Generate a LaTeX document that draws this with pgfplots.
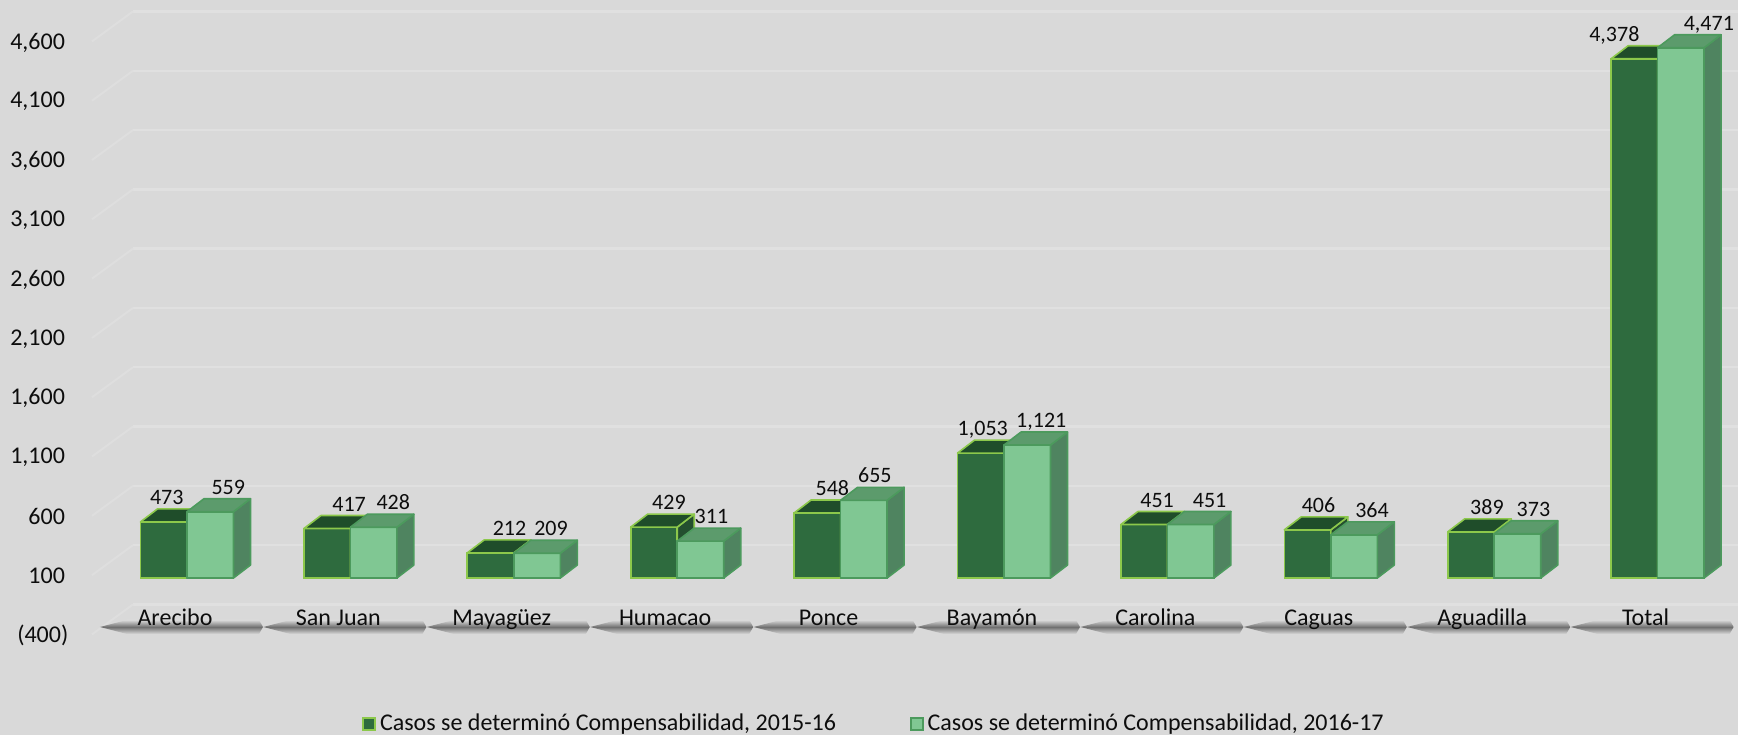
\documentclass[border=0pt]{standalone}
\usepackage{fontspec}
\setmainfont{Carlito}
\usepackage{pgfplots}
\usepackage{pgfplotstable}
\pgfplotsset{compat=1.18}

\definecolor{bgc}{HTML}{D9D9D9}
\definecolor{gridc}{HTML}{E0E0E0}
\definecolor{gridd}{HTML}{DEDEDE}
\definecolor{shc}{HTML}{707070}
\definecolor{txtc}{HTML}{0D0D0D}
\definecolor{dfront}{HTML}{2E6B3E}
\definecolor{dtop}{HTML}{1F4D2A}
\definecolor{dside}{HTML}{244F2F}
\definecolor{dedge}{HTML}{8CC84B}
\definecolor{lfront}{HTML}{80C793}
\definecolor{ltop}{HTML}{5C9B6C}
\definecolor{lside}{HTML}{4F8460}
\definecolor{ledge}{HTML}{4C9A5D}

% values per region, ds/ls = label x offsets (pt)
\pgfplotstableread{
x dark light ds ls
0 473 559 1.5 9
1 417 428 11 9.8
2 212 209 9.5 7
3 429 311 7.5 5.5
4 548 655 7.5 5.5
5 1053 1121 1 7
6 451 451 6.5 9.5
7 406 364 5.5 9
8 389 373 8 8
9 4378 4471 -10 14
}\datatable

% box faces; the mark sits at the bar top, at the group centre
\pgfdeclareplotmark{cubedark}{%
  \pgfmathsetmacro\hh{\val*0.059298}%
  \filldraw[fill=dside, draw=dedge, line width=0.8pt, line join=round]
    (0pt,0pt) -- (8.5pt,6.5pt) -- (8.5pt,6.5pt-\hh pt) -- (0pt,-\hh pt) -- cycle;
  \filldraw[fill=dtop, draw=dedge, line width=0.8pt, line join=round]
    (-23.25pt,0pt) -- (0pt,0pt) -- (8.5pt,6.5pt) -- (-14.75pt,6.5pt) -- cycle;
}
\pgfdeclareplotmark{cubelight}{%
  \pgfmathsetmacro\hh{\val*0.059298}%
  \filldraw[fill=lfront, draw=ledge, line width=0.8pt, line join=round]
    (0pt,0pt) rectangle (23.25pt,-\hh pt);
  \filldraw[fill=lside, draw=ledge, line width=0.8pt, line join=round]
    (23.25pt,0pt) -- (31.75pt,6.5pt) -- (31.75pt,6.5pt-\hh pt) -- (23.25pt,-\hh pt) -- cycle;
  \filldraw[fill=ltop, draw=ledge, line width=0.8pt, line join=round]
    (0pt,0pt) -- (23.25pt,0pt) -- (31.75pt,6.5pt) -- (8.5pt,6.5pt) -- cycle;
}

\begin{document}
\begin{tikzpicture}
\fill[bgc] (0,0) rectangle (869pt,367.5pt);
\begin{axis}[
    at={(0,0)}, anchor=south west,
    scale only axis,
    width=869pt, height=367.5pt,
    xmin=-1.1444, xmax=9.492,
    ymin=-1323.8, ymax=4873.5,
    axis line style={draw=none},
    major tick length=0pt,
    axis on top,
    clip=false,
    xtick={0,...,9},
    xticklabels={Arecibo,San Juan,Mayagüez,Humacao,Ponce,Bayamón,Carolina,Caguas,Aguadilla,Total},
    ytick={-400,100,...,4600},
    yticklabels={{(400)\kern-1.7pt},100,600,{1,100},{1,600},{2,100},{2,600},{3,100},{3,600},{4,100},{4,600}},
    every tick label/.append style={font=\fontsize{12}{14}\selectfont, text=txtc},
    xticklabel style={anchor=base, yshift=55pt, xshift=-6pt},
    yticklabel style={anchor=east, xshift=36pt, yshift=-5pt},
    legend columns=2,
    legend style={at={(axis description cs:0.2083,0.015)}, anchor=west,
        draw=none, fill=none, inner sep=0pt,
        font=\fontsize{12}{14}\selectfont, text=txtc,
        /tikz/every even column/.append style={column sep=35pt}},
    /pgf/number format/1000 sep={,},
    /pgf/number format/assume math mode=true,
]

% back wall grid and side wall lines
\pgfplotsinvokeforeach{-400,100,...,4600}{
  \draw[gridc, line width=1.2pt] ([yshift=10.5pt]axis cs:-0.3305,#1) -- ([yshift=10.5pt]axis cs:9.492,#1);
  \draw[gridd, line width=1pt] ([yshift=10.5pt]axis cs:-0.3305,#1) -- ([yshift=-4.5pt]axis cs:-0.5814,#1);
}
% floor shadows under the category names
\pgfplotsinvokeforeach{0,...,9}{
  \shade[top color=bgc, bottom color=bgc, middle color=shc]
    ([xshift=-43.5pt]axis cs:#1,-413) -- ([xshift=-30pt,yshift=3.5pt]axis cs:#1,-413)
    -- ([xshift=36pt,yshift=3.5pt]axis cs:#1,-413) -- ([xshift=38pt]axis cs:#1,-413)
    -- ([xshift=36pt,yshift=-3.5pt]axis cs:#1,-413) -- ([xshift=-30pt,yshift=-3.5pt]axis cs:#1,-413) -- cycle;
}

\addplot[ybar, bar width=0.2846, bar shift=-0.1423, fill=dfront, draw=dedge, line width=0.8pt,
    legend image code/.code={\filldraw[fill=dfront, draw=dedge, line width=0.8pt] (0pt,-3pt) rectangle (6pt,3pt);}]
    table[x=x, y=dark] {\datatable};
\addlegendentry{Casos se determinó Compensabilidad, 2015-16}

\addplot[ybar, bar width=0.2846, bar shift=0.1423, fill=lfront, draw=ledge, line width=0.8pt,
    legend image code/.code={\filldraw[fill=lfront, draw=ledge, line width=0.8pt] (0pt,-3pt) rectangle (6pt,3pt);}]
    table[x=x, y=light] {\datatable};
\addlegendentry{Casos se determinó Compensabilidad, 2016-17}

\addplot[scatter, only marks, mark=cubedark, forget plot,
    visualization depends on={rawy \as \val},
    visualization depends on={\thisrow{ds} \as \sh},
    nodes near coords={\pgfmathprintnumber{\val}},
    every node near coord/.append style={anchor=base, text=txtc,
        font=\fontsize{11}{13}\selectfont, xshift=\sh pt-11.625pt, yshift=8.75pt}]
    table[x=x, y=dark] {\datatable};

\addplot[scatter, only marks, mark=cubelight, forget plot,
    visualization depends on={rawy \as \val},
    visualization depends on={\thisrow{ls} \as \sh},
    nodes near coords={\pgfmathprintnumber{\val}},
    every node near coord/.append style={anchor=base, text=txtc,
        font=\fontsize{11}{13}\selectfont, xshift=\sh pt+11.625pt, yshift=8.75pt}]
    table[x=x, y=light] {\datatable};

\end{axis}
\pgfresetboundingbox
\useasboundingbox (0,0) rectangle (869pt,367.5pt);
\end{tikzpicture}
\end{document}
